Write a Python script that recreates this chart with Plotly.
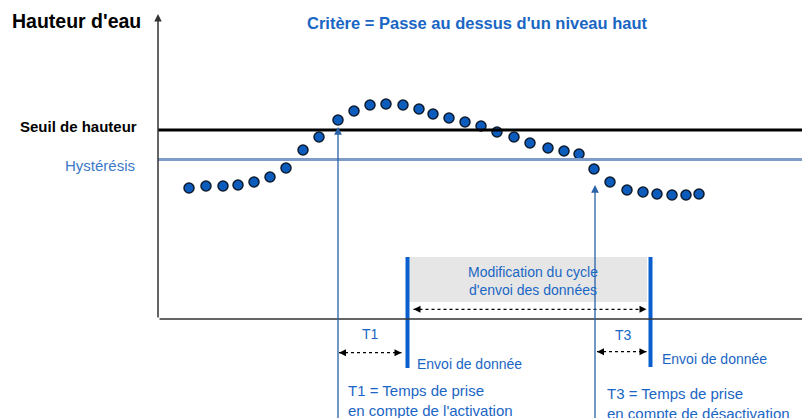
import plotly.graph_objects as go

# temps (abscisse) et hauteur d'eau (ordonnée) des mesures
temps = [31, 48, 65, 80, 96, 112, 128, 145, 161, 180, 196, 212, 228, 245, 261, 275, 291,
         307, 323, 339, 356, 372, 390, 406, 421, 436, 452, 469, 485, 499, 514, 528, 541]
hauteur = [131, 133, 133, 134, 137, 142, 151, 169, 182, 199, 208, 214, 215, 214, 210, 205, 201,
           197, 193, 187, 182, 176, 171, 168, 165, 150, 137, 129, 127, 125, 124, 124, 125]

seuil_hauteur = 189
seuil_hysteresis = 159.5

t_activation = 180
t_desactivation = 437
t_envoi = [249.5, 492.5]

BLEU = "#1a66c4"
FONT = "Arial, Liberation Sans, sans-serif"

fig = go.Figure()

fig.add_trace(go.Scatter(
    x=temps, y=hauteur, mode="markers",
    marker=dict(size=10, color="#0b5cbd", line=dict(width=1.5, color="#0d1b2e")),
    hoverinfo="skip"
))

shapes = []
# seuils
shapes.append(dict(type="line", x0=0, x1=660, y0=seuil_hauteur, y1=seuil_hauteur,
                   line=dict(color="black", width=3)))
shapes.append(dict(type="line", x0=0, x1=660, y0=seuil_hysteresis, y1=seuil_hysteresis,
                   line=dict(color="#7f9bc8", width=3)))
# zone de modification du cycle
shapes.append(dict(type="rect", x0=t_envoi[0] + 1.5, x1=t_envoi[1] - 3.5, y0=17, y1=62,
                   fillcolor="#e6e6e6", line=dict(width=0), layer="below"))
# envois de donnée
shapes.append(dict(type="line", x0=t_envoi[0], x1=t_envoi[0], y0=62, y1=-49,
                   line=dict(color="#0a5fcf", width=4)))
shapes.append(dict(type="line", x0=t_envoi[1], x1=t_envoi[1], y0=62, y1=-48,
                   line=dict(color="#0a5fcf", width=4)))

annotations = []
# axes avec flèches
annotations.append(dict(x=0, y=305, ax=0, ay=0, axref="x", ayref="y", xref="x", yref="y",
                        showarrow=True, arrowhead=2, arrowsize=1, arrowwidth=1.5,
                        arrowcolor="#333333", text=""))
annotations.append(dict(x=656, y=0, ax=0, ay=0, axref="x", ayref="y", xref="x", yref="y",
                        showarrow=True, arrowhead=2, arrowsize=1, arrowwidth=1.5,
                        arrowcolor="#333333", text=""))
# flèches activation / désactivation
annotations.append(dict(x=t_activation, y=192, ax=t_activation, ay=-110, axref="x", ayref="y",
                        xref="x", yref="y", showarrow=True, arrowhead=2, arrowsize=1.2,
                        arrowwidth=1.3, arrowcolor="#2a62a8", text=""))
annotations.append(dict(x=t_desactivation, y=134, ax=t_desactivation, ay=-110, axref="x", ayref="y",
                        xref="x", yref="y", showarrow=True, arrowhead=2, arrowsize=1.2,
                        arrowwidth=1.3, arrowcolor="#2a62a8", text=""))

# flèches pointillées double sens
for x0, x1, y in [(t_envoi[0] + 6, t_envoi[1] - 4, 9.7),
                  (t_activation + 1, t_envoi[0] - 6, -33.7),
                  (t_desactivation + 2, t_envoi[1] - 4, -32.7)]:
    fig.add_trace(go.Scatter(
        x=[x0, x1], y=[y, y], mode="lines+markers",
        line=dict(color="black", width=1.2, dash="dot"),
        marker=dict(symbol=["arrow-left", "arrow-right"], size=7, color="black"),
        hoverinfo="skip"
    ))


def texte(x, y, t, size, color=BLEU, bold=False, xanchor="left"):
    if bold:
        t = "<b>" + t + "</b>"
    annotations.append(dict(x=x, y=y, xref="x", yref="y", text=t, showarrow=False,
                            xanchor=xanchor, yanchor="middle", align=xanchor if xanchor != "center" else "center",
                            font=dict(family=FONT, size=size, color=color)))


texte(-148, 298, "Hauteur d'eau", 19.5, color="black", bold=True)
texte(319, 296, "Critère = Passe au dessus d'un niveau haut", 16.5, bold=True, xanchor="center")
texte(-19, 193, "Seuil de hauteur", 15, color="black", bold=True, xanchor="right")
texte(-21, 154, "Hystérésis", 15, color="#3a78c8", xanchor="right")
texte(375, 38, "Modification du cycle<br>d'envoi des données", 14, xanchor="center")
texte(212, -15, "T1", 14, xanchor="center")
texte(465, -16, "T3", 14, xanchor="center")
texte(257, -45, "Envoi de donnée", 14)
texte(502, -40, "Envoi de donnée", 14)
texte(188, -81, "T1 = Temps de prise<br>en compte de l'activation", 15)
texte(447, -84, "T3 = Temps de prise<br>en compte de désactivation", 15)

# la page a une marge de 8 px : la figure fait 802x410 et commence à (8, 8)
fig.update_layout(
    width=802, height=410,
    margin=dict(l=0, r=0, t=0, b=0),
    paper_bgcolor="white", plot_bgcolor="white",
    showlegend=False,
    xaxis=dict(range=[-150, 652], visible=False, fixedrange=True),
    yaxis=dict(range=[-99, 311], visible=False, fixedrange=True),
    shapes=shapes,
    annotations=annotations,
)

fig.write_html("out.html")
